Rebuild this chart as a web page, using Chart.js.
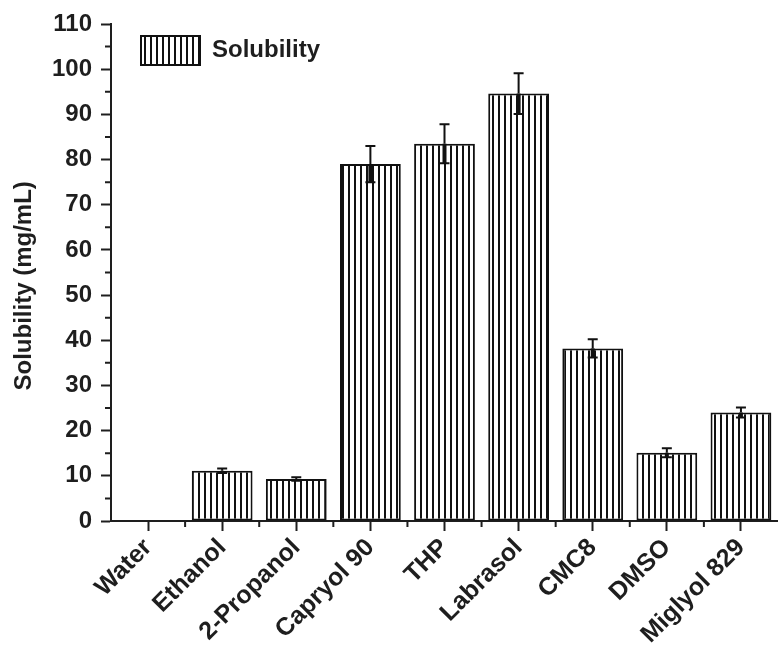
<!DOCTYPE html>
<html>
<head>
<meta charset="utf-8">
<script src="https://cdn.jsdelivr.net/npm/chart.js@4.4.0/dist/chart.umd.min.js"></script>
<style>
  html, body { margin: 0; padding: 0; background: #fff; }
  #wrap { width: 778px; height: 662px; }
</style>
</head>
<body>
<div id="wrap"><canvas id="SolChart"></canvas></div>
<script>
const solvents = ["Water", "Ethanol", "2-Propanol", "Capryol 90", "THP", "Labrasol", "CMC8", "DMSO", "Miglyol 829"];
const solubility = [0, 11.1, 9.3, 79, 83.5, 94.6, 38.2, 15.1, 24];
const solubilityErr = [0, 0.5, 0.4, 4, 4.3, 4.5, 2, 1, 1.1];
const yMin = 0;
const yMax = 110;
const yStep = 10;

const ink = "#1e1e1e";
const ctx = document.getElementById("SolChart").getContext("2d");
Chart.defaults.font.family = "'Liberation Sans', Arial, sans-serif";
Chart.defaults.color = ink;

// vertical line hatch like the original plot
function makeHatch() {
  const c = document.createElement("canvas");
  c.width = 6;
  c.height = 6;
  const g = c.getContext("2d");
  g.fillStyle = "#fff";
  g.fillRect(0, 0, 6, 6);
  g.fillStyle = "#111";
  g.fillRect(0, 0, 2, 6);
  return ctx.createPattern(c, "repeat");
}

const errorBars = {
  id: "errorBars",
  afterDatasetsDraw(chart) {
    const c = chart.ctx;
    const y = chart.scales.y;
    const meta = chart.getDatasetMeta(0);
    c.save();
    c.strokeStyle = "#111";
    meta.data.forEach((bar, i) => {
      const e = solubilityErr[i];
      if (!e) return;
      const top = y.getPixelForValue(solubility[i] + e);
      const mid = y.getPixelForValue(solubility[i]);
      const bot = y.getPixelForValue(solubility[i] - e);
      c.lineWidth = 2;
      c.beginPath();
      c.moveTo(bar.x, top);
      c.lineTo(bar.x, mid);
      c.moveTo(bar.x - 5, top);
      c.lineTo(bar.x + 5, top);
      c.moveTo(bar.x - 5, bot);
      c.lineTo(bar.x + 5, bot);
      c.stroke();
      // lower half sits on the hatch, drawn heavier as in the original
      c.lineWidth = 4;
      c.beginPath();
      c.moveTo(bar.x, mid);
      c.lineTo(bar.x, bot);
      c.stroke();
    });
    c.restore();
  },
};

// short minor ticks between the labelled ones
const minorTicks = {
  id: "minorTicks",
  afterDraw(chart) {
    const c = chart.ctx;
    const { x, y } = chart.scales;
    c.save();
    c.strokeStyle = ink;
    c.lineWidth = 2;
    c.beginPath();
    for (let v = yMin + yStep / 2; v < yMax; v += yStep) {
      const py = y.getPixelForValue(v);
      c.moveTo(x.left - 6, py);
      c.lineTo(x.left, py);
    }
    for (let i = 1; i < solvents.length; i++) {
      const px = x.getPixelForValue(i - 0.5);
      c.moveTo(px, y.bottom);
      c.lineTo(px, y.bottom + 6);
    }
    c.stroke();
    c.restore();
  },
};

const legendShift = {
  id: "legendShift",
  afterLayout(chart) {
    if (chart.legend) chart.legend.top = chart.chartArea.top - 18;
  },
};

new Chart(ctx, {
  type: "bar",
  data: {
    labels: solvents,
    datasets: [
      {
        label: "Solubility",
        data: solubility,
        backgroundColor: makeHatch(),
        borderColor: "#111",
        borderWidth: 2,
        borderSkipped: false,
        barPercentage: 0.82,
        categoryPercentage: 1,
      },
    ],
  },
  options: {
    responsive: true,
    maintainAspectRatio: false,
    animation: false,
    layout: { padding: { top: 24, right: 0, bottom: 0, left: 0 } },
    plugins: {
      tooltip: { enabled: false },
      legend: {
        position: "chartArea",
        align: "start",
        labels: {
          boxWidth: 59,
          boxHeight: 29,
          padding: 30,
          color: ink,
          font: { size: 24, weight: "bold" },
        },
      },
    },
    scales: {
      x: {
        grid: { display: true, drawOnChartArea: false, offset: false, tickLength: 10, tickWidth: 2, tickColor: ink },
        border: { display: true, width: 2, color: ink },
        ticks: { maxRotation: 45, minRotation: 45, padding: 2, color: ink, font: { size: 25, weight: "bold" } },
        afterFit(s) { s.height = 141; },
      },
      y: {
        min: yMin,
        max: yMax,
        grid: { display: true, drawOnChartArea: false, tickLength: 10, tickWidth: 2, tickColor: ink },
        border: { display: true, width: 2, color: ink },
        ticks: { stepSize: yStep, padding: 9, color: ink, font: { size: 24, weight: "bold" } },
        title: {
          display: true,
          text: "Solubility (mg/mL)    ",
          color: ink,
          padding: { top: 10, bottom: 0 },
          font: { size: 24, weight: "bold" },
        },
        afterFit(s) { s.width = 111; },
      },
    },
  },
  plugins: [errorBars, minorTicks, legendShift],
});
</script>
</body>
</html>
